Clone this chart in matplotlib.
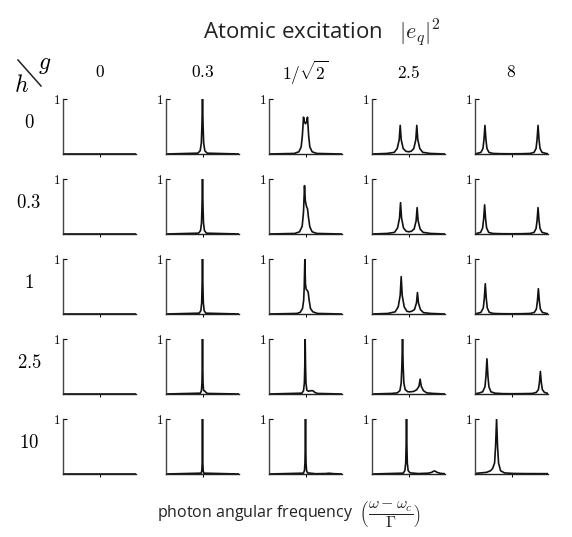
import matplotlib
matplotlib.use("Agg")
from matplotlib import pyplot as plt
from matplotlib.lines import Line2D

plt.rcParams['mathtext.fontset'] = 'cm'
plt.rcParams['font.family'] = ['Open Sans', 'DejaVu Sans']

# coupling values (columns) and h values (rows)
g_labels = ['$0$', '$0.3$', r'$1/\sqrt{2}$', '$2.5$', '$8$']
h_labels = ['$0$', '$0.3$', '$1$', '$2.5$', '$10$']

# spectra, one x/y list per panel (row = h, col = g)
flat_x = [-11, 11]
flat_y = [0, 0]

# h = 0
r0c1_x = [-11, -1.4, -0.7, -0.35, -0.18, 0, 0.18, 0.35, 0.7, 1.4, 11]
r0c1_y = [0, 0.015, 0.06, 0.2, 0.5, 1, 0.5, 0.2, 0.06, 0.015, 0]
r0c2_x = [-11, -3.4, -2.0, -1.3, -0.95, -0.6, -0.3, 0, 0.3, 0.6, 0.95, 1.3, 2.0, 3.4, 11]
r0c2_y = [0, 0.01, 0.04, 0.13, 0.33, 0.67, 0.58, 0.55, 0.58, 0.67, 0.33, 0.13, 0.04, 0.01, 0]
r0c3_x = [-11, -6.5, -4.3, -3.4, -2.8, -2.5, -2.2, -1.6, -0.8, 0, 0.8, 1.6, 2.2, 2.5, 2.8, 3.4, 4.3, 6.5, 11]
r0c3_y = [0, 0.01, 0.03, 0.1, 0.26, 0.52, 0.26, 0.1, 0.05, 0.04, 0.05, 0.1, 0.26, 0.52, 0.26, 0.1, 0.03, 0.01, 0]
r0c4_x = [-11, -10.4, -9.2, -8.6, -8.3, -8, -7.7, -7.4, -6.8, -5.6, -3, 0, 3, 5.6, 6.8, 7.4, 7.7, 8, 8.3, 8.6, 9.2, 10.4, 11]
r0c4_y = [0.005, 0.01, 0.03, 0.1, 0.26, 0.52, 0.26, 0.1, 0.03, 0.01, 0.005, 0.004, 0.005, 0.01, 0.03, 0.1, 0.26, 0.52, 0.26, 0.1, 0.03, 0.01, 0.005]

# h = 0.3
r1c1_x = [-11, -1.2, -0.6, -0.3, -0.15, 0, 0.15, 0.3, 0.6, 1.2, 11]
r1c1_y = [0, 0.015, 0.06, 0.2, 0.5, 1, 0.5, 0.2, 0.06, 0.015, 0]
r1c2_x = [-11, -3.2, -1.8, -1.0, -0.6, -0.3, -0.05, 0.3, 0.6, 0.9, 1.3, 2.0, 3.4, 11]
r1c2_y = [0, 0.01, 0.04, 0.14, 0.4, 0.88, 0.6, 0.5, 0.46, 0.3, 0.13, 0.04, 0.01, 0]
r1c3_x = [-11, -6.4, -4.2, -3.3, -2.7, -2.4, -2.1, -1.5, -0.7, 0.1, 0.9, 1.7, 2.3, 2.6, 2.9, 3.5, 4.4, 6.6, 11]
r1c3_y = [0, 0.01, 0.03, 0.11, 0.29, 0.57, 0.29, 0.11, 0.05, 0.04, 0.05, 0.09, 0.24, 0.48, 0.24, 0.09, 0.03, 0.01, 0]
r1c4_x = [-11, -10.5, -9.3, -8.7, -8.4, -8.1, -7.8, -7.5, -6.9, -5.7, -3, 0, 3, 5.6, 6.8, 7.4, 7.7, 8, 8.3, 8.6, 9.2, 10.4, 11]
r1c4_y = [0.005, 0.01, 0.03, 0.11, 0.27, 0.53, 0.27, 0.11, 0.03, 0.01, 0.005, 0.004, 0.005, 0.01, 0.03, 0.1, 0.24, 0.48, 0.24, 0.1, 0.03, 0.01, 0.005]

# h = 1
r2c1_x = [-11, -1.0, -0.5, -0.25, -0.13, 0, 0.13, 0.25, 0.5, 1.0, 11]
r2c1_y = [0, 0.015, 0.06, 0.2, 0.5, 1, 0.5, 0.2, 0.06, 0.015, 0]
r2c2_x = [-11, -2.6, -1.6, -0.9, -0.55, -0.38, -0.2, -0.02, 0.2, 0.5, 0.8, 1.1, 1.5, 2.2, 3.6, 11]
r2c2_y = [0, 0.01, 0.03, 0.1, 0.25, 0.5, 1.0, 0.55, 0.45, 0.43, 0.4, 0.25, 0.1, 0.04, 0.01, 0]
r2c3_x = [-11, -6.2, -4.0, -3.1, -2.5, -2.2, -1.9, -1.3, -0.5, 0.3, 1.0, 1.8, 2.4, 2.7, 3.0, 3.6, 4.5, 6.7, 11]
r2c3_y = [0, 0.01, 0.04, 0.13, 0.34, 0.68, 0.34, 0.13, 0.05, 0.04, 0.05, 0.08, 0.2, 0.39, 0.2, 0.08, 0.025, 0.01, 0]
r2c4_x = [-11, -10.4, -9.2, -8.5, -8.2, -7.9, -7.6, -7.3, -6.7, -5.5, -3, 0, 3, 5.7, 6.9, 7.5, 7.8, 8.1, 8.4, 8.7, 9.3, 10.5, 11]
r2c4_y = [0.005, 0.01, 0.03, 0.11, 0.28, 0.55, 0.28, 0.11, 0.03, 0.01, 0.005, 0.004, 0.005, 0.01, 0.03, 0.09, 0.23, 0.46, 0.23, 0.09, 0.03, 0.01, 0.005]

# h = 2.5
r3c1_x = [-11, -0.64, -0.32, -0.16, -0.08, 0, 0.08, 0.16, 0.32, 0.6, 0.8, 1.0, 1.5, 11]
r3c1_y = [0, 0.015, 0.06, 0.2, 0.5, 1, 0.5, 0.2, 0.07, 0.05, 0.05, 0.03, 0.01, 0]
r3c2_x = [-11, -1.1, -0.6, -0.34, -0.22, -0.1, 0.02, 0.14, 0.4, 0.9, 1.6, 2.2, 2.8, 3.6, 11]
r3c2_y = [0, 0.015, 0.06, 0.2, 0.5, 1.0, 0.5, 0.2, 0.07, 0.05, 0.06, 0.06, 0.03, 0.01, 0]
r3c3_x = [-11, -5.0, -3.4, -2.6, -2.2, -2.0, -1.8, -1.6, -1.4, -1.0, -0.2, 0.8, 1.7, 2.5, 3.15, 3.5, 3.85, 4.5, 5.5, 7.5, 11]
r3c3_y = [0, 0.01, 0.02, 0.06, 0.2, 0.5, 1.0, 0.5, 0.2, 0.08, 0.04, 0.04, 0.05, 0.08, 0.14, 0.27, 0.14, 0.06, 0.02, 0.01, 0]
r3c4_x = [-11, -9.9, -8.7, -8.0, -7.7, -7.4, -7.1, -6.8, -6.2, -5.0, -2.5, 0, 3, 6.3, 7.5, 8.1, 8.4, 8.7, 9.0, 9.3, 9.9, 11]
r3c4_y = [0.005, 0.015, 0.04, 0.13, 0.32, 0.64, 0.32, 0.13, 0.04, 0.015, 0.006, 0.005, 0.006, 0.01, 0.03, 0.08, 0.2, 0.41, 0.2, 0.08, 0.03, 0.01]

# h = 10
r4c1_x = [-11, -0.4, -0.2, -0.1, -0.05, 0, 0.05, 0.1, 0.2, 0.4, 11]
r4c1_y = [0, 0.015, 0.06, 0.2, 0.5, 1, 0.5, 0.2, 0.06, 0.015, 0]
r4c2_x = [-11, -0.64, -0.32, -0.16, -0.08, 0, 0.08, 0.16, 0.32, 0.64, 3, 6, 7.2, 8.4, 11]
r4c2_y = [0, 0.015, 0.06, 0.2, 0.5, 1, 0.5, 0.2, 0.06, 0.02, 0.005, 0.008, 0.014, 0.006, 0]
r4c3_x = [-11, -1.6, -1.1, -0.84, -0.72, -0.6, -0.48, -0.36, -0.1, 0.5, 3, 6, 7.0, 7.5, 7.8, 8.1, 8.6, 9.6, 11]
r4c3_y = [0, 0.015, 0.06, 0.2, 0.5, 1, 0.5, 0.2, 0.06, 0.02, 0.008, 0.015, 0.03, 0.05, 0.055, 0.05, 0.03, 0.012, 0.005]
r4c4_x = [-11, -7.5, -6.3, -5.7, -5.1, -4.8, -4.5, -4.2, -3.9, -3.3, -2.1, 0.5, 4, 11]
r4c4_y = [0.01, 0.03, 0.06, 0.1, 0.2, 0.5, 1.0, 0.5, 0.2, 0.06, 0.02, 0.01, 0.007, 0.006]

curves = [
    [(flat_x, flat_y), (r0c1_x, r0c1_y), (r0c2_x, r0c2_y), (r0c3_x, r0c3_y), (r0c4_x, r0c4_y)],
    [(flat_x, flat_y), (r1c1_x, r1c1_y), (r1c2_x, r1c2_y), (r1c3_x, r1c3_y), (r1c4_x, r1c4_y)],
    [(flat_x, flat_y), (r2c1_x, r2c1_y), (r2c2_x, r2c2_y), (r2c3_x, r2c3_y), (r2c4_x, r2c4_y)],
    [(flat_x, flat_y), (r3c1_x, r3c1_y), (r3c2_x, r3c2_y), (r3c3_x, r3c3_y), (r3c4_x, r3c4_y)],
    [(flat_x, flat_y), (r4c1_x, r4c1_y), (r4c2_x, r4c2_y), (r4c3_x, r4c3_y), (r4c4_x, r4c4_y)],
]

W, H = 572, 537
fig = plt.figure(figsize=(W / 100, H / 100), dpi=100)

ax_w = 73
ax_h = 55
for r in range(5):
    for c in range(5):
        left = 63 + 103 * c
        top = 99 + 80 * r
        ax = fig.add_axes([left / W, 1 - (top + ax_h) / H, ax_w / W, ax_h / H])
        xs, ys = curves[r][c]
        ax.plot(xs, ys, color='#111111', lw=1.2)
        ax.set_xlim(-11, 11)
        ax.set_ylim(0, 1)
        for s in ['top', 'right']:
            ax.spines[s].set_visible(False)
        ax.spines['left'].set_color('#444444')
        ax.spines['bottom'].set_color('#222222')
        ax.spines['left'].set_linewidth(1.0)
        ax.spines['bottom'].set_linewidth(1.0)
        ax.set_xticks([0])
        ax.set_xticklabels([])
        ax.set_yticks([1])
        ax.set_yticklabels(['$1$'])
        ax.tick_params(axis='x', direction='out', length=2.5, width=0.7)
        ax.tick_params(axis='y', direction='in', length=3, width=0.8, labelsize=9.5, pad=2)

# column headers (g)
for c in range(5):
    cx = (63 + 103 * c + ax_w / 2) / W
    fig.text(cx, 1 - 73 / H, g_labels[c], ha='center', va='center', fontsize=12.5)

# row labels (h)
for r in range(5):
    cy = 1 - (99 + 80 * r + ax_h / 2) / H
    fig.text(29 / W, cy + 0.006, h_labels[r], ha='center', va='center', fontsize=13.5)

# corner h \ g
fig.add_artist(Line2D([18 / W, 41 / W], [1 - 60 / H, 1 - 86 / H], color='#222222', lw=1.1))
fig.text(22 / W, 1 - 86 / H, '$h$', ha='center', va='center', fontsize=17)
fig.text(45 / W, 1 - 64 / H, '$g$', ha='center', va='center', fontsize=17)

fig.text(0.562, 1 - 33 / H, r'Atomic excitation   $|e_q|^2$', ha='center', va='center',
         fontsize=16, color='#222222')
fig.text(0.505, 1 - 515 / H,
         r'photon angular frequency  $\left(\dfrac{\omega - \omega_c}{\Gamma}\right)$',
         ha='center', va='center', fontsize=11.5, color='#222222')

fig.savefig('out.png', dpi=100)
